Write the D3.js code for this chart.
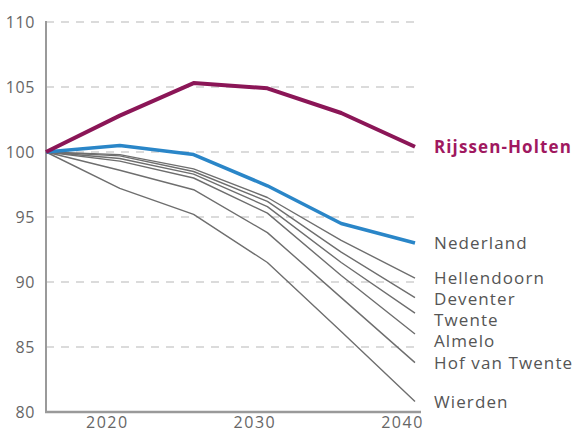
<!DOCTYPE html>
<html>
<head>
<meta charset="utf-8">
<script src="https://cdn.jsdelivr.net/npm/d3@7"></script>
<style>
  body { margin: 0; background: #fff; }
  svg text { font-family: "Open Sans", sans-serif; }
</style>
</head>
<body>
<svg width="577" height="437"></svg>
<script>
// years on the x axis
var years = [2015, 2020, 2025, 2030, 2035, 2040];

// index, 2015 = 100
var rijssenHolten = [100, 102.8, 105.3, 104.9, 103.0, 100.4];
var nederland     = [100, 100.5, 99.8, 97.4, 94.5, 93.0];
var hellendoorn   = [100, 99.8, 98.7, 96.5, 93.2, 90.3];
var deventer      = [100, 99.7, 98.5, 96.2, 92.3, 88.8];
var twente        = [100, 99.5, 98.3, 95.8, 91.5, 87.6];
var almelo        = [100, 99.3, 98.0, 95.3, 90.5, 86.0];
var hofVanTwente  = [100, 98.6, 97.1, 93.8, 88.8, 83.8];
var wierden       = [100, 97.2, 95.2, 91.5, 86.2, 80.8];

var yTicks = [80, 85, 90, 95, 100, 105, 110];
var xTicks = [2020, 2030, 2040];

var series = [
  {name: "Hellendoorn", values: hellendoorn, kind: "grey"},
  {name: "Deventer", values: deventer, kind: "grey"},
  {name: "Twente", values: twente, kind: "grey"},
  {name: "Almelo", values: almelo, kind: "grey"},
  {name: "Hof van Twente", values: hofVanTwente, kind: "grey"},
  {name: "Wierden", values: wierden, kind: "grey"},
  {name: "Nederland", values: nederland, kind: "nl"},
  {name: "Rijssen-Holten", values: rijssenHolten, kind: "rh"}
];

var svg = d3.select("svg");

var xScale = d3.scaleLinear()
               .domain([2015, 2040])
               .range([46, 415]);
var yScale = d3.scaleLinear()
               .domain([80, 110])
               .range([412, 22]);

// dashed grid
svg.append("g")
   .selectAll("line")
   .data(yTicks.filter(function(d) { return d > 80; }))
   .enter().append("line")
   .attr("x1", 46).attr("x2", 421)
   .attr("y1", function(d) { return yScale(d); })
   .attr("y2", function(d) { return yScale(d); })
   .attr("stroke", "#cfcfcf")
   .attr("stroke-width", 1.5)
   .attr("stroke-dasharray", "8,7");

// axes
var y_axis = d3.axisLeft(yScale).tickValues(yTicks).tickSize(0).tickPadding(11);
var gy = svg.append("g").attr("transform", "translate(46,0)").call(y_axis);
gy.select(".domain").remove();
gy.selectAll("text").attr("fill", "#666")
  .style("font-size", "16px").style("letter-spacing", "0.6px");

var x_axis = d3.axisBottom(xScale).tickValues(xTicks).tickSize(0).tickPadding(5)
               .tickFormat(d3.format("d"));
var gx = svg.append("g").attr("transform", "translate(0,412)").call(x_axis);
gx.select(".domain").remove();
gx.selectAll("text").attr("fill", "#666").attr("dx", -13)
  .style("font-size", "16px").style("letter-spacing", "1.5px");

svg.append("line")
   .attr("x1", 46).attr("x2", 46).attr("y1", 21).attr("y2", 413)
   .attr("stroke", "#9a9a9a").attr("stroke-width", 2);
svg.append("line")
   .attr("x1", 45).attr("x2", 421).attr("y1", 412).attr("y2", 412)
   .attr("stroke", "#9a9a9a").attr("stroke-width", 2.5);

var lineGenerator = d3.line()
  .x(function(d, i) { return xScale(years[i]); })
  .y(function(d) { return yScale(d); });

var colors = {grey: "#6e6e6e", nl: "#2a86c8", rh: "#8b1657"};
var widths = {grey: 1.4, nl: 3.5, rh: 4};

svg.append("g")
   .selectAll("path")
   .data(series)
   .enter().append("path")
   .attr("d", function(d) { return lineGenerator(d.values); })
   .attr("fill", "none")
   .attr("stroke", function(d) { return colors[d.kind]; })
   .attr("stroke-width", function(d) { return widths[d.kind]; })
   .attr("stroke-linejoin", "round");

// labels: sorted top-down, pushed apart so they don't overlap
var labels = series.map(function(s) {
  return {s: s, y: yScale(s.values[s.values.length - 1])};
}).sort(function(a, b) { return a.y - b.y; });
for (var i = 1; i < labels.length; i++) {
  if (labels[i].y < labels[i - 1].y + 21) labels[i].y = labels[i - 1].y + 21;
}

svg.append("g")
   .selectAll("text")
   .data(labels)
   .enter().append("text")
   .attr("x", 434)
   .attr("y", function(d) { return d.y; })
   .attr("dy", "0.35em")
   .attr("fill", function(d) { return d.s.kind == "rh" ? "#a0185f" : "#555"; })
   .style("font-weight", function(d) { return d.s.kind == "rh" ? "bold" : "normal"; })
   .style("font-size", "17px")
   .style("letter-spacing", "1.1px")
   .text(function(d) { return d.s.name; });
</script>
</body>
</html>
